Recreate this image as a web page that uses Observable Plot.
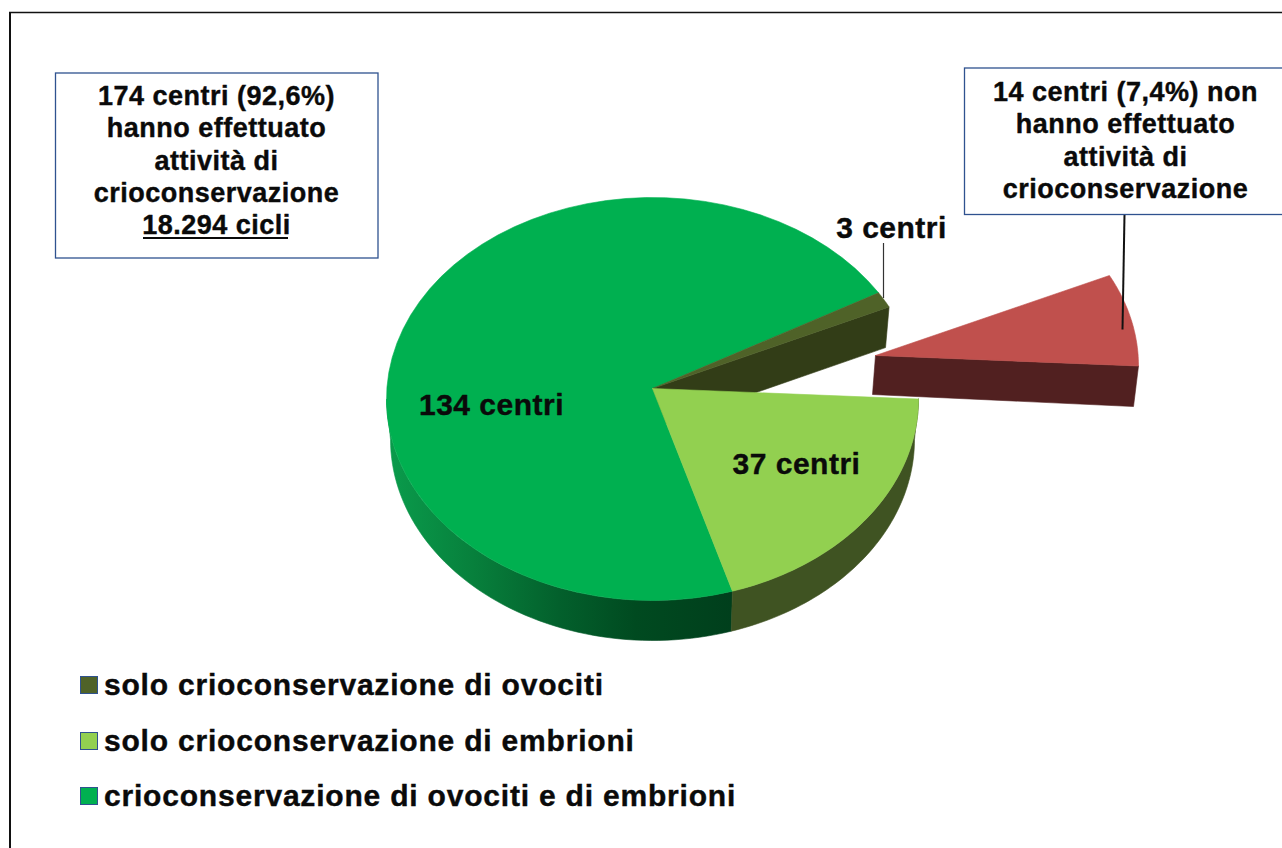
<!DOCTYPE html>
<html lang="it">
<head>
<meta charset="utf-8">
<title>Crioconservazione</title>
<script src="https://cdn.jsdelivr.net/npm/d3@7"></script>
<script src="https://cdn.jsdelivr.net/npm/@observablehq/plot@0.6"></script>
<style>
  html, body { margin: 0; padding: 0; background: #fff; overflow: hidden; }
  body { width: 1282px; height: 848px; font-family: "Liberation Sans", Arial, sans-serif; }
  svg { display: block; }
  svg text { letter-spacing: 0.5px; }
  #legend { margin-left: 9px; height: 192px; border-left: 2px solid #111; box-sizing: border-box; padding-top: 1.5px; }
  .item { display: flex; align-items: center; height: 55.5px; padding-left: 69px; font-weight: 700; font-size: 30px; letter-spacing: 0.8px; color: #0a0a0a; white-space: nowrap; -webkit-text-stroke: 0.4px #0a0a0a; }
  .sw { width: 16px; height: 16px; border: 1.5px solid #2f528f; margin-right: 6px; flex: none; }
</style>
</head>
<body>
<div id="chart"></div>
<div id="legend"></div>
<script>
// Data
const categories = ["non hanno effettuato", "solo embrioni", "ovociti e embrioni", "solo ovociti"];
const centri = [14, 37, 134, 3];
const topColors = ["#c0504d", "#92d050", "#00b050", "#4f6228"];
const sliceLabels = ["3 centri", "37 centri", "134 centri"];
const legendLabels = [
  "solo crioconservazione di ovociti",
  "solo crioconservazione di embrioni",
  "crioconservazione di ovociti e di embrioni"
];
const legendColors = ["#4f6228", "#92d050", "#00b050"];
const leftBoxLines = ["174 centri (92,6%)", "hanno effettuato", "attività di", "crioconservazione", "18.294 cicli"];
const rightBoxLines = ["14 centri (7,4%) non", "hanno effettuato", "attività di", "crioconservazione"];

// Layout of the drawing
const W = 1282, H = 656;
const top3D = {cx: 652, cy: 398.5, rx: 266, ry: 201.5, ax: 652, ay: 388};
const bot3D = {cx: 652, cy: 439, rx: 262, ry: 201, ax: 652, ay: 428};
const redTop = {cx: 652, cy: 398.5, rx: 263, ry: 198, ax: 652, ay: 388};
const redBot = {cx: 652, cy: 439, rx: 258, ry: 201, ax: 649, ay: 427};
const explode = {dx: 223, dy: -33};
const startDeg = -26.5;
// the slanted view slightly distorts angles on the drawn ellipse
const view = d3.scaleLinear().domain([-26.5, 0.3, 71.15, 327.75, 333.5]).range([-27.2, 0, 72.5, 328.2, 332.8]);

const total = d3.sum(centri);
let acc = startDeg;
const slices = centri.map((v, i) => {
  const a0 = acc, a1 = acc + v / total * 360;
  acc = a1;
  return {i, v, a0: view(a0), a1: view(a1), color: topColors[i]};
});
const rim = (e, deg, o = {dx: 0, dy: 0}) => {
  const t = deg * Math.PI / 180;
  return {x: e.cx + e.rx * Math.cos(t) + o.dx, y: e.cy + e.ry * Math.sin(t) + o.dy};
};
const arc = (e, a0, a1, o) => d3.range(0, 61).map(k => rim(e, a0 + (a1 - a0) * k / 60, o));
const apex = (e, o = {dx: 0, dy: 0}) => ({x: e.ax + o.dx, y: e.ay + o.dy});
const closed = pts => [...pts, pts[0]];
const poly = (pts, color) => Plot.line(closed(pts), {x: "x", y: "y", fill: color, stroke: color, strokeWidth: 0.6});

const [sRed, sEmb, sBoth, sOvo] = slices;

const defs = () => {
  const svgNS = "http://www.w3.org/2000/svg";
  const d = document.createElementNS(svgNS, "defs");
  const g = document.createElementNS(svgNS, "linearGradient");
  g.setAttribute("id", "wallGreen");
  g.setAttribute("gradientUnits", "userSpaceOnUse");
  g.setAttribute("x1", 386); g.setAttribute("x2", 732);
  g.setAttribute("y1", 0); g.setAttribute("y2", 0);
  [[0, "#0a9c4c"], [0.25, "#07803c"], [0.5, "#03602c"], [0.72, "#004a20"], [1, "#003f1c"]].forEach(([o, c]) => {
    const s = document.createElementNS(svgNS, "stop");
    s.setAttribute("offset", o); s.setAttribute("stop-color", c);
    g.appendChild(s);
  });
  d.appendChild(g);
  return d;
};

const textStyle = {fontFamily: "Liberation Sans", fontWeight: 700, fill: "#0a0a0a", stroke: "#0a0a0a", strokeWidth: 0.4, lineAnchor: "middle", textAnchor: "middle"};

const chart = Plot.plot({
  width: W, height: H,
  marginTop: 0, marginRight: 0, marginBottom: 0, marginLeft: 0,
  x: {domain: [0, W], range: [0, W], axis: null},
  y: {domain: [0, H], range: [0, H], axis: null},
  marks: [
    defs,
    // outer frame
    Plot.ruleY([12], {x1: 9, x2: W, stroke: "#111", strokeWidth: 1.5}),
    Plot.ruleX([9.5], {y1: 12, y2: H, stroke: "#111", strokeWidth: 2}),
    // walls of the main pie
    poly([apex(top3D), rim(top3D, sOvo.a1), rim(bot3D, sOvo.a1), apex(bot3D)], "#323d17"),
    poly([...arc(top3D, sBoth.a0, 180), ...arc(bot3D, 180, sBoth.a0)], "url(#wallGreen)"),
    poly([...arc(top3D, sEmb.a0, sEmb.a1), ...arc(bot3D, sEmb.a1, sEmb.a0)], "#3f5322"),
    // tops of the main pie
    ...[sBoth, sOvo, sEmb].map(s => poly([apex(top3D), ...arc(top3D, s.a0, s.a1)], s.color)),
    // exploded slice
    poly([apex(redTop, explode), rim(redTop, sRed.a1, explode), rim(redBot, sRed.a1, explode), apex(redBot, explode)], "#512020"),
    poly([apex(redTop, explode), ...arc(redTop, sRed.a0, sRed.a1, explode)], sRed.color),
    // leaders
    Plot.ruleX([883], {y1: 243, y2: 298, stroke: "#333", strokeWidth: 1.2}),
    Plot.link([0], {x1: () => 1124, y1: () => 214, x2: () => 1122, y2: () => 329, stroke: "#111", strokeWidth: 2}),
    // callout boxes
    Plot.rect([0], {x1: () => 55.5, x2: () => 378, y1: () => 73, y2: () => 258, fill: "#fff", stroke: "#2f528f", strokeWidth: 1.3}),
    Plot.rect([0], {x1: () => 964.5, x2: () => 1290, y1: () => 68, y2: () => 214.5, fill: "#fff", stroke: "#2f528f", strokeWidth: 1.3}),
    Plot.text(leftBoxLines, {x: 216, y: (d, i) => 96 + i * 32.3, text: d => d, fontSize: 27, ...textStyle}),
    Plot.ruleY([237.5], {x1: 143, x2: 288, stroke: "#0a0a0a", strokeWidth: 2}),
    Plot.text(rightBoxLines, {x: 1125, y: (d, i) => 92 + i * 32.3, text: d => d, fontSize: 27, ...textStyle}),
    // slice labels
    Plot.text(sliceLabels, {
      x: (d, i) => [891, 796, 491][i],
      y: (d, i) => [228, 464, 405][i],
      text: d => d, fontSize: 30, ...textStyle
    })
  ]
});
document.getElementById("chart").appendChild(chart);

const legend = d3.select("#legend");
legendLabels.forEach((label, i) => {
  const row = legend.append("div").attr("class", "item");
  row.append("span").attr("class", "sw").style("background", legendColors[i]);
  row.append("span").text(label);
});
</script>
</body>
</html>
